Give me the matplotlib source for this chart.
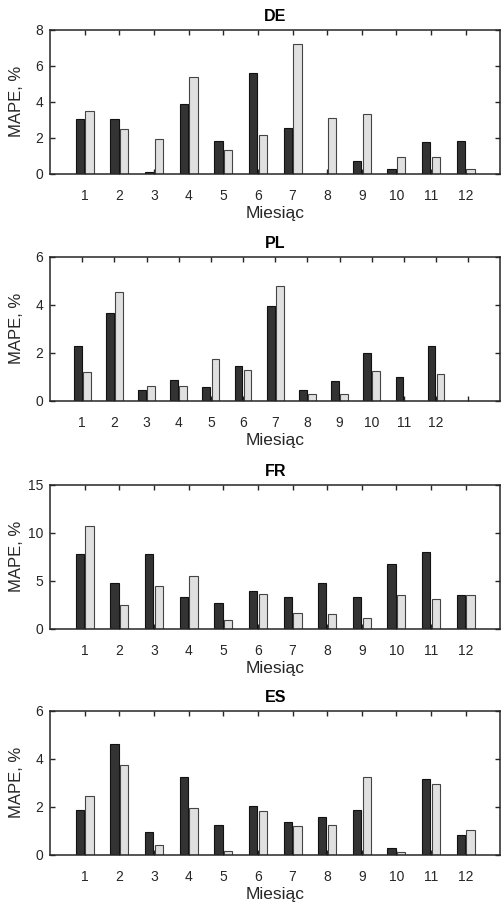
import numpy as np
import matplotlib
matplotlib.use('Agg')
import matplotlib.pyplot as plt

plt.rcParams['font.family'] = ['Liberation Sans', 'DejaVu Sans']

months = list(range(1, 13))
countries = ['DE', 'PL', 'FR', 'ES']

# MAPE values, dark (model A) and light (model B) bars
de_a = [3.03, 3.03, 0.07, 3.86, 1.79, 5.62, 2.53, 0.0, 0.68, 0.24, 1.74, 1.79]
de_b = [3.51, 2.50, 1.90, 5.36, 1.29, 2.14, 7.23, 3.07, 3.31, 0.91, 0.91, 0.24]
pl_a = [2.26, 3.64, 0.46, 0.88, 0.56, 1.46, 3.93, 0.46, 0.83, 2.00, 0.99, 2.26]
pl_b = [1.21, 4.54, 0.61, 0.61, 1.75, 1.26, 4.76, 0.29, 0.26, 1.24, 0.0, 1.13]
fr_a = [7.83, 4.81, 7.83, 3.33, 2.70, 3.95, 3.33, 4.75, 3.26, 6.75, 7.97, 3.46]
fr_b = [10.70, 2.49, 4.40, 5.44, 0.87, 3.64, 1.63, 1.49, 1.11, 3.50, 3.05, 3.46]
es_a = [1.87, 4.62, 0.95, 3.24, 1.22, 2.03, 1.38, 1.59, 1.86, 0.28, 3.15, 0.83]
es_b = [2.46, 3.72, 0.39, 1.94, 0.15, 1.82, 1.19, 1.22, 3.24, 0.10, 2.95, 1.02]

series = {'DE': (de_a, de_b), 'PL': (pl_a, pl_b), 'FR': (fr_a, fr_b), 'ES': (es_a, es_b)}
ylims = {'DE': (0, 8), 'PL': (0, 6), 'FR': (0, 15), 'ES': (0, 6)}
yticks = {'DE': [0, 2, 4, 6, 8], 'PL': [0, 2, 4, 6], 'FR': [0, 5, 10, 15], 'ES': [0, 2, 4, 6]}
xlims = {'DE': (0, 13), 'PL': (0, 14), 'FR': (0, 13), 'ES': (0, 13)}

fig = plt.figure(figsize=(5.01, 9.08), dpi=100)
bottoms = [0.8087, 0.5587, 0.3076, 0.0587]
axc = '#262626'

for name, b in zip(countries, bottoms):
    ax = fig.add_axes([0.0998, b, 0.899, 0.1586])
    a_vals, b_vals = series[name]
    x = np.array(months)
    ax.bar(x - 0.14, a_vals, width=0.24, color='#333333', edgecolor='#111111', linewidth=0.8, zorder=2)
    ax.bar(x + 0.14, b_vals, width=0.24, color='#e0e0e0', edgecolor='#444444', linewidth=0.8, zorder=2)
    ax.set_xlim(*xlims[name])
    ax.set_ylim(*ylims[name])
    ax.set_yticks(yticks[name])
    if name == 'PL':
        # this panel has one extra (unlabelled) month slot
        ax.set_xticks(list(range(1, 14)))
        ax.set_xticklabels([str(m) for m in months] + [''])
    else:
        ax.set_xticks(months)
    ax.tick_params(direction='in', length=3.5, width=1.0, top=True, right=True,
                   labelsize=10, colors=axc)
    ax.tick_params(axis='x', pad=11)
    ax.tick_params(axis='y', pad=5)
    for s in ax.spines.values():
        s.set_color(axc)
        s.set_linewidth(1.1)
        s.set_zorder(3)
    ax.set_title(name, fontsize=11.5, fontweight='bold', pad=6)
    ax.set_xlabel('Miesiąc', fontsize=12.5, color=axc, labelpad=2)
    ax.set_ylabel('MAPE, %', fontsize=12, color=axc)
    ax.yaxis.set_label_coords(-0.058, 0.5)

fig.savefig('out.png', dpi=100)
